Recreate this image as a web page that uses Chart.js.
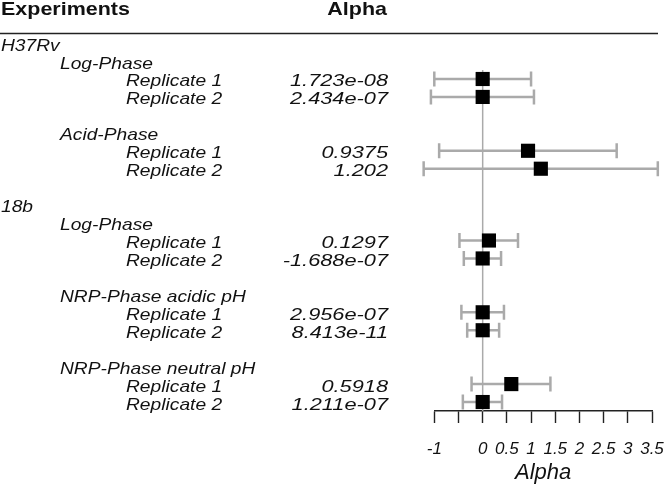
<!DOCTYPE html>
<html>
<head>
<meta charset="utf-8">
<script src="https://cdn.jsdelivr.net/npm/chart.js@4"></script>
<style>
  body { margin: 0; background: #fff; }
  #wrap { width: 666px; height: 485px; }
</style>
</head>
<body>
<div id="wrap"><canvas id="forest" width="666" height="485"></canvas></div>
<script>
// ===== DATOS =====
const rowLabels = ['H37Rv', 'Log-Phase', 'Replicate 1', 'Replicate 2', '', 'Acid-Phase', 'Replicate 1', 'Replicate 2', '',
  '18b', 'Log-Phase', 'Replicate 1', 'Replicate 2', '', 'NRP-Phase acidic pH', 'Replicate 1', 'Replicate 2', '',
  'NRP-Phase neutral pH', 'Replicate 1', 'Replicate 2'];
const rowIndent = [0, 1, 2, 2, 0, 1, 2, 2, 0, 0, 1, 2, 2, 0, 1, 2, 2, 0, 1, 2, 2];
const dataRows = [2, 3, 6, 7, 11, 12, 15, 16, 19, 20];
const alphaText = ['1.723e-08', '2.434e-07', '0.9375', '1.202', '0.1297', '-1.688e-07', '2.956e-07', '8.413e-11', '0.5918', '1.211e-07'];
const alphaValues = [1.723e-08, 2.434e-07, 0.9375, 1.202, 0.1297, -1.688e-07, 2.956e-07, 8.413e-11, 0.5918, 1.211e-07];
const ciLower = [-1.0, -1.07, -0.9, -1.22, -0.48, -0.39, -0.44, -0.32, -0.23, -0.41];
const ciUpper = [1.0, 1.06, 2.77, 3.62, 0.73, 0.38, 0.44, 0.34, 1.40, 0.40];
const tickLabels = ['-1', '', '0', '0.5', '1', '1.5', '2', '2.5', '3', '3.5'];
const zeroLine = [{ x: 0, y: 1.5 }, { x: 0, y: 20.5 }];

// ===== TEXTO DE LA TABLA (izquierda) =====
function stretchText(ctx, txt, x, y, sx, align) {
    ctx.save();
    ctx.translate(x, y);
    ctx.scale(sx, 1);
    ctx.textAlign = align;
    ctx.fillText(txt, 0, 0);
    ctx.restore();
}

const tablePlugin = {
    id: 'tabla',
    beforeDatasetsDraw(chart) {
        // barras de error
        const ctx = chart.ctx, xs = chart.scales.x, ys = chart.scales.y;
        ctx.save();
        ctx.strokeStyle = '#aaaaaa';
        ctx.lineWidth = 2.5;
        dataRows.forEach((r, i) => {
            const y = ys.getPixelForValue(r);
            const x1 = xs.getPixelForValue(ciLower[i]);
            const x2 = xs.getPixelForValue(ciUpper[i]);
            ctx.beginPath();
            ctx.moveTo(x1, y); ctx.lineTo(x2, y);
            ctx.moveTo(x1, y - 7.5); ctx.lineTo(x1, y + 7.5);
            ctx.moveTo(x2, y - 7.5); ctx.lineTo(x2, y + 7.5);
            ctx.stroke();
        });
        ctx.restore();
    },
    afterDraw(chart) {
        const ctx = chart.ctx, ys = chart.scales.y;
        ctx.save();
        ctx.fillStyle = '#111';
        ctx.textBaseline = 'alphabetic';
        ctx.font = 'bold 19px "Liberation Sans", Arial, sans-serif';
        stretchText(ctx, 'Experiments', 1, 15, 1.13, 'left');
        stretchText(ctx, 'Alpha', 387, 15, 1.13, 'right');
        // linea superior
        ctx.strokeStyle = '#222';
        ctx.lineWidth = 1.4;
        ctx.beginPath();
        ctx.moveTo(0, 33.5); ctx.lineTo(658, 33.5);
        ctx.stroke();

        ctx.font = 'italic 17px "Liberation Sans", Arial, sans-serif';
        const indentX = [1, 60, 126];
        rowLabels.forEach((lab, r) => {
            if (!lab) return;
            stretchText(ctx, lab, indentX[rowIndent[r]], ys.getPixelForValue(r) + 7.5, 1.13, 'left');
        });
        dataRows.forEach((r, i) => {
            stretchText(ctx, alphaText[i], 388, ys.getPixelForValue(r) + 7.5, 1.28, 'right');
        });
        ctx.restore();
    }
};

// ===== GRAFICO =====
const chart = new Chart(document.getElementById('forest'), {
    type: 'scatter',
    data: {
        datasets: [
            {
                label: 'Alpha',
                data: dataRows.map((r, i) => ({ x: alphaValues[i], y: r })),
                pointStyle: 'rect',
                pointRadius: 10,
                pointHoverRadius: 10,
                backgroundColor: '#000',
                borderWidth: 0,
                clip: false,
                order: 0
            },
            {
                type: 'line',
                label: 'cero',
                data: zeroLine,
                borderColor: '#aaaaaa',
                borderWidth: 1.5,
                pointRadius: 0,
                order: 2
            }
        ]
    },
    options: {
        responsive: false,
        animation: false,
        layout: { padding: { top: 43.1, left: 434.3, right: 14, bottom: 0 } },
        plugins: { legend: { display: false }, tooltip: { enabled: false } },
        scales: {
            x: {
                type: 'linear',
                min: -1,
                max: 3.5,
                afterFit: s => { s.height = 74; s.paddingLeft = 0; s.paddingRight = 0; },
                afterBuildTicks: s => { s.ticks = tickLabels.map((t, i) => ({ value: -1 + i * 0.5 })); },
                ticks: {
                    autoSkip: false,
                    maxRotation: 0,
                    padding: 16,
                    color: '#111',
                    font: { family: '"Liberation Sans", Arial, sans-serif', size: 17, style: 'italic' },
                    callback: (v, i) => tickLabels[i]
                },
                grid: { drawOnChartArea: false, drawTicks: true, tickLength: 12, tickColor: '#222', tickWidth: 1.4 },
                border: { display: true, color: '#222', width: 1.4 },
                title: {
                    display: true,
                    text: 'Alpha',
                    color: '#111',
                    padding: { top: 0, bottom: -1 },
                    font: { family: '"Liberation Sans", Arial, sans-serif', size: 22, style: 'italic' }
                }
            },
            y: {
                type: 'linear',
                display: false,
                reverse: true,
                min: 0,
                max: 20.5
            }
        }
    },
    plugins: [tablePlugin]
});
</script>
</body>
</html>
